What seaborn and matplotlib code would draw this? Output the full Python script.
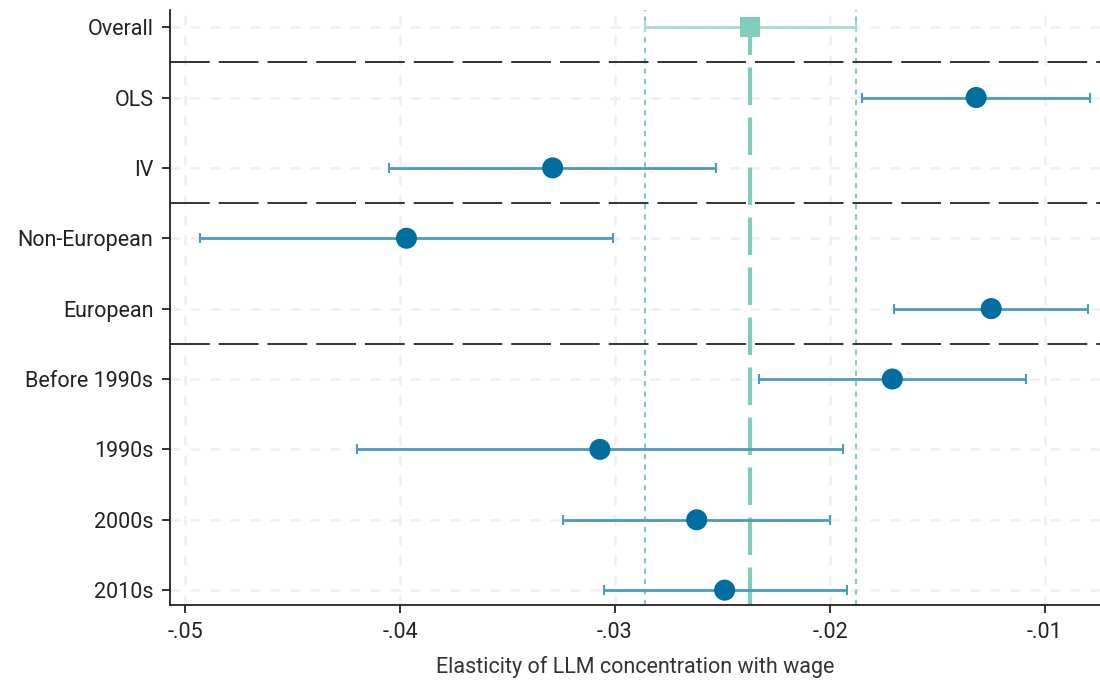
import matplotlib
matplotlib.use("Agg")
import matplotlib.pyplot as plt
import seaborn as sns
import pandas as pd
import numpy as np

labels = ["Overall", "OLS", "IV", "Non-European", "European",
          "Before 1990s", "1990s", "2000s", "2010s"]
estimates = [-0.0237, -0.0132, -0.0329, -0.0397, -0.0125,
             -0.0171, -0.0307, -0.0262, -0.0249]
ci_low = [-0.0286, -0.0185, -0.0405, -0.0493, -0.0170,
          -0.0233, -0.0420, -0.0324, -0.0305]
ci_high = [-0.0188, -0.0079, -0.0253, -0.0301, -0.0080,
           -0.0109, -0.0194, -0.0200, -0.0192]
separators = [0.5, 2.5, 4.5]
xticks = [-0.05, -0.04, -0.03, -0.02, -0.01]
xticklabels = ["-.05", "-.04", "-.03", "-.02", "-.01"]
xlabel = "Elasticity of LLM concentration with wage"

sns.set_theme(style="ticks")
plt.rcParams["font.family"] = ["Roboto", "DejaVu Sans"]

df = pd.DataFrame({"label": labels, "est": estimates, "lo": ci_low, "hi": ci_high})
df["pos"] = np.arange(len(df))

fig = plt.figure(figsize=(11, 6.82), dpi=100)
ax = fig.add_axes([0.1545, 0.113, 0.8455, 0.872])

teal = "#7fcdbb"
blue = "#006e9e"
eblue = "#4b9bc0"

# grid
for xv in xticks:
    ax.axvline(xv, color="#efefef", lw=1.8, ls=(0, (4, 4)), zorder=0)
for yv in df["pos"]:
    ax.axhline(yv, color="#efefef", lw=1.8, ls=(0, (4, 4)), zorder=0)

ov = df.iloc[0]
ax.axvline(ov["est"], color=teal, lw=3, ls=(0, (9, 3)), zorder=1)
ax.axvline(ov["lo"], color=teal, lw=1.5, ls=(0, (2.5, 2.5)), zorder=1)
ax.axvline(ov["hi"], color=teal, lw=1.5, ls=(0, (2.5, 2.5)), zorder=1)

for s in separators:
    ax.axhline(s, color="#222222", lw=1.3, ls=(0, (22, 5)), zorder=2)

sub = df.iloc[1:]
ax.errorbar(sub["est"], sub["pos"], xerr=[sub["est"] - sub["lo"], sub["hi"] - sub["est"]],
            fmt="none", ecolor=eblue, elinewidth=2, capsize=3.5, capthick=1.5, zorder=3)
ax.errorbar([ov["est"]], [ov["pos"]], xerr=[[ov["est"] - ov["lo"]], [ov["hi"] - ov["est"]]],
            fmt="none", ecolor="#a9dccf", elinewidth=2, capsize=3.5, capthick=1.5, zorder=3)

sns.scatterplot(data=sub, x="est", y="pos", color=blue, s=230, marker="o",
                edgecolor="none", ax=ax, zorder=4, legend=False)
sns.scatterplot(data=df.iloc[:1], x="est", y="pos", color=teal, s=210, marker="s",
                edgecolor="none", ax=ax, zorder=4, legend=False)

ax.set_xlim(-0.0507, -0.00744)
ax.set_ylim(8.21, -0.24)
ax.set_yticks(df["pos"])
ax.set_yticklabels(labels)
ax.set_xticks(xticks)
ax.set_xticklabels(xticklabels)
ax.set_xlabel(xlabel, fontsize=15.5, labelpad=10, color="#333333")
ax.set_ylabel("")
ax.tick_params(axis="both", labelsize=15.5, colors="#222222", length=6, width=1.3, pad=6)
for side in ["top", "right"]:
    ax.spines[side].set_visible(False)
for side in ["left", "bottom"]:
    ax.spines[side].set_linewidth(1.3)
    ax.spines[side].set_color("#222222")

fig.savefig("out.png", dpi=100)
